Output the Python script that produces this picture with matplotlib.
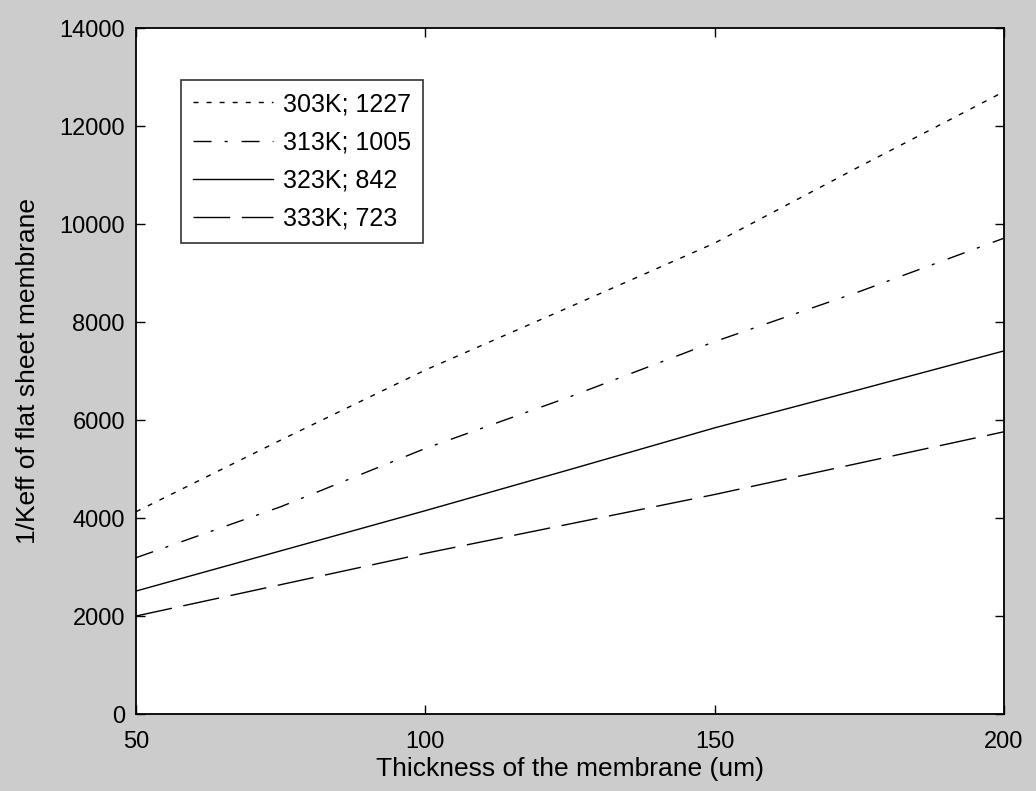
import matplotlib
matplotlib.use("Agg")
import matplotlib.pyplot as plt

# thickness of the membrane (um)
thickness = [50, 75, 100, 125, 150, 175, 200]

# 1/Keff values
k_303 = [4128, 5590, 7020, 8310, 9610, 11170, 12700]
k_313 = [3190, 4230, 5420, 6475, 7600, 8620, 9710]
k_323 = [2510, 3330, 4150, 4990, 5840, 6620, 7410]
k_333 = [2000, 2640, 3280, 3880, 4480, 5120, 5760]

labels = ["303K; 1227", "313K; 1005", "323K; 842", "333K; 723"]

plt.rcParams['font.family'] = ['Liberation Sans', 'DejaVu Sans']
plt.rcParams['lines.scale_dashes'] = False

fig = plt.figure(figsize=(10.36, 7.91), dpi=100, facecolor='#cccccc')
ax = fig.add_axes([0.1313, 0.0973, 0.8377, 0.8673])

ax.plot(thickness, k_303, color='black', lw=1.0, dashes=(3.6, 5.8), label=labels[0])
ax.plot(thickness, k_313, color='black', lw=1.0, dashes=(13, 9.4, 2.2, 10), label=labels[1])
ax.plot(thickness, k_323, color='black', lw=1.0, linestyle='-', label=labels[2])
ax.plot(thickness, k_333, color='black', lw=1.0, dashes=(26.4, 8.4), label=labels[3])

ax.set_xlim(50, 200)
ax.set_ylim(0, 14000)
ax.set_xticks([50, 100, 150, 200])
ax.set_yticks(range(0, 14001, 2000))
ax.tick_params(direction='in', length=6.5, width=1, top=True, right=True,
               labelsize=17)
ax.tick_params(axis='x', pad=12)
ax.tick_params(axis='y', pad=8)
for s in ax.spines.values():
    s.set_linewidth(1.3)

ax.set_xlabel('Thickness of the membrane (um)', fontsize=19, labelpad=3)
ax.set_ylabel('1/Keff of flat sheet membrane', fontsize=19, labelpad=14)

leg = ax.legend(loc='upper left', bbox_to_anchor=(0.0518, 0.924), fontsize=18,
                frameon=True, fancybox=False, handlelength=3.2,
                handletextpad=0.4, labelspacing=0.57, borderpad=0.48,
                borderaxespad=0)
leg.get_frame().set_edgecolor('black')
leg.get_frame().set_linewidth(1.2)

fig.savefig('out.png', dpi=100, facecolor=fig.get_facecolor())
